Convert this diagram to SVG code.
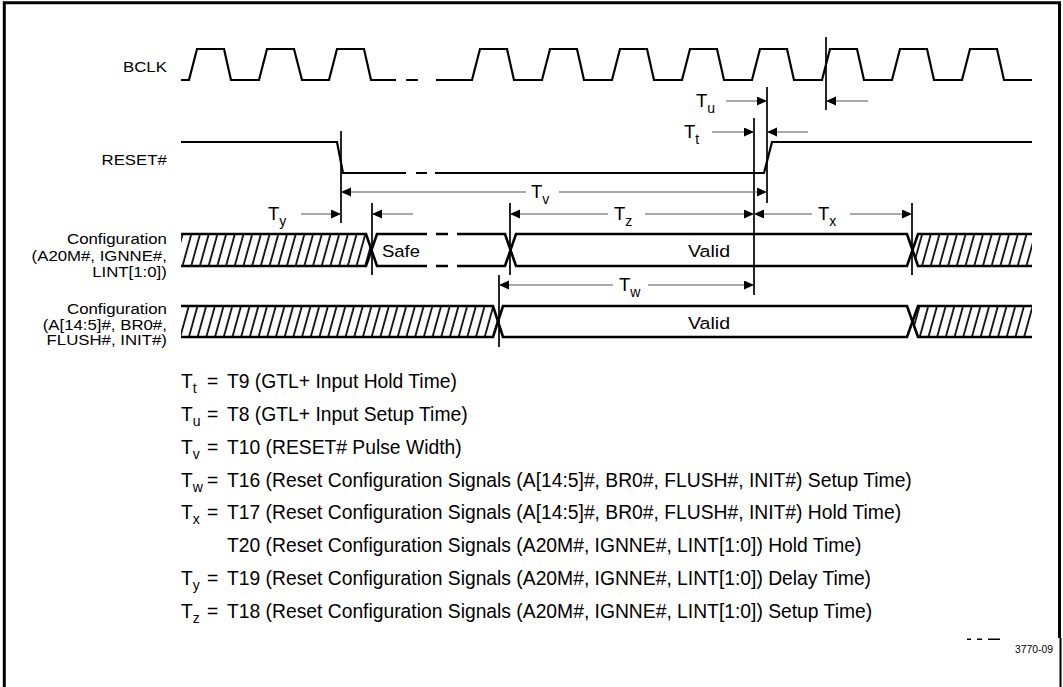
<svg xmlns="http://www.w3.org/2000/svg" width="1063" height="687" viewBox="0 0 1063 687">
<style>
text{font-family:"Liberation Sans",Arial,Helvetica,sans-serif;fill:#000}
.lbl{font-size:15px;text-anchor:end}
.sig{fill:none;stroke:#000;stroke-width:2.2;stroke-linejoin:miter}
.row{fill:none;stroke:#000;stroke-width:2.6}
.vl{fill:none;stroke:#000;stroke-width:1.7}
.dim{fill:none;stroke:#555;stroke-width:1.2;marker-end:url(#ah)}
.tl{font-size:18.5px}
.sub{font-size:14px}
.leg{font-size:19.3px}
.legsub{font-size:14px}
.val{font-size:16.3px}
.frame{fill:none;stroke:#000;stroke-width:3}
</style>
<defs>
<marker id="ah" markerUnits="userSpaceOnUse" markerWidth="11" markerHeight="10" viewBox="0 0 11 10" refX="10" refY="4.5" orient="auto"><path d="M0,0 L10,4.5 L0,9 z" fill="#000"/></marker>
<pattern id="hatch" patternUnits="userSpaceOnUse" width="8.7" height="40" patternTransform="skewX(-15.5)"><line x1="4" y1="0" x2="4" y2="40" stroke="#000" stroke-width="1.8"/></pattern>
</defs>

<g id="frame">
<path class="frame" d="M4.3 687 V2.8 H1059.5 V638"/>
<path fill="none" stroke="#000" stroke-width="2" d="M1060.5 638 V687"/>
<rect x="967" y="638.5" width="4" height="1.5" fill="#000"/>
<rect x="977" y="638.5" width="5" height="1.5" fill="#000"/>
<rect x="988" y="638.5" width="12" height="1.5" fill="#000"/>
</g>

<g id="signal-labels" transform="matrix(1.12 0 0 1 -20.2 0)">
<text class="lbl" x="167" y="72">BCLK</text>
<text class="lbl" x="167" y="165.5">RESET#</text>
<text class="lbl" x="167" y="244.3">Configuration</text>
<text class="lbl" x="167" y="261">(A20M#, IGNNE#,</text>
<text class="lbl" x="167" y="277.3">LINT[1:0])</text>
<text class="lbl" x="167" y="314.3">Configuration</text>
<text class="lbl" x="167" y="330.3">(A[14:5]#, BR0#,</text>
<text class="lbl" x="167" y="345.5">FLUSH#, INIT#)</text>
</g>

<g id="bclk">
<path class="sig" d="M181 80 H189 L197 49 H224 L231 80 H259 L267 49 H294 L302 80 H329 L337 49 H364 L371 80 H396 M406 80 H418 M436 80 H472 L480 49 H507 L514 80 H542 L550 49 H577 L584 80 H612 L620 49 H647 L654 80 H682 L690 49 H717 L724 80 H752 L760 49 H787 L794 80 H822 L830 49 H857 L864 80 H892 L900 49 H927 L934 80 H962 L970 49 H997 L1004 80 H1032"/>
</g>

<g id="reset">
<path class="sig" d="M181 142 H337 L343 173 H406 M416 173 H427 M435 173 H764 L772 142 H1032"/>
</g>

<g id="config1">
<polygon fill="url(#hatch)" points="181,234 366,234 371.5,250 366,266 181,266"/>
<polygon fill="url(#hatch)" points="918,234 1032,234 1032,266 918,266 912.5,250"/>
<path class="row" d="M181 234 H366 L377 266 H427 M436 266 H448 M457 266 H505 L516 234 H907 L918 266 H1032"/>
<path class="row" d="M181 266 H366 L377 234 H427 M436 234 H448 M457 234 H505 L516 266 H907 L918 234 H1032"/>
<text class="val" x="382" y="257" textLength="38" lengthAdjust="spacingAndGlyphs">Safe</text>
<text class="val" x="709" y="257" text-anchor="middle" textLength="42" lengthAdjust="spacingAndGlyphs">Valid</text>
</g>

<g id="config2">
<polygon fill="url(#hatch)" points="181,306 493,306 498,321.5 493,337 181,337"/>
<polygon fill="url(#hatch)" points="918,306 1032,306 1032,337 918,337 912.5,321.5"/>
<path class="row" d="M181 306 H493 L503 337 H907 L918 306 H1032"/>
<path class="row" d="M181 337 H493 L503 306 H907 L918 337 H1032"/>
<text class="val" x="709" y="328.5" text-anchor="middle" textLength="42" lengthAdjust="spacingAndGlyphs">Valid</text>
</g>

<g id="connectors">
<path class="vl" d="M341 131 V223 M372 203 V275 M510 203 V275 M499 275 V347 M754 118 V295 M767 87 V203 M826 37 V110 M912 203 V275"/>
<line class="dim" x1="726" y1="101" x2="767" y2="101"/>
<line class="dim" x1="868" y1="101" x2="826" y2="101"/>
<line class="dim" x1="712" y1="132" x2="754" y2="132"/>
<line class="dim" x1="808" y1="132" x2="767" y2="132"/>
<line class="dim" x1="526" y1="192" x2="341" y2="192"/>
<line class="dim" x1="559" y1="192" x2="767" y2="192"/>
<line class="dim" x1="301" y1="214" x2="341" y2="214"/>
<line class="dim" x1="413" y1="214" x2="372" y2="214"/>
<line class="dim" x1="608" y1="214" x2="510" y2="214"/>
<line class="dim" x1="645" y1="214" x2="754" y2="214"/>
<line class="dim" x1="812" y1="214" x2="754" y2="214"/>
<line class="dim" x1="850" y1="214" x2="912" y2="214"/>
<line class="dim" x1="613" y1="285" x2="499" y2="285"/>
<line class="dim" x1="648" y1="285" x2="754" y2="285"/>
</g>

<g id="timing-labels">
<text class="tl" x="696" y="107">T<tspan class="sub" dy="6">u</tspan></text>
<text class="tl" x="684" y="138">T<tspan class="sub" dy="6">t</tspan></text>
<text class="tl" x="531" y="198">T<tspan class="sub" dy="6">v</tspan></text>
<text class="tl" x="268" y="220">T<tspan class="sub" dy="6">y</tspan></text>
<text class="tl" x="614" y="220">T<tspan class="sub" dy="6">z</tspan></text>
<text class="tl" x="818" y="220">T<tspan class="sub" dy="6">x</tspan></text>
<text class="tl" x="619" y="291">T<tspan class="sub" dy="6">w</tspan></text>
</g>

<g id="legend">
<text class="leg" x="181" y="388">T<tspan class="legsub" dy="5">t</tspan></text>
<text class="leg" x="207" y="388">=</text>
<text class="leg" x="227" y="388">T9 (GTL+ Input Hold Time)</text>
<text class="leg" x="181" y="420.9">T<tspan class="legsub" dy="5">u</tspan></text>
<text class="leg" x="207" y="420.9">=</text>
<text class="leg" x="227" y="420.9">T8 (GTL+ Input Setup Time)</text>
<text class="leg" x="181" y="453.7">T<tspan class="legsub" dy="5">v</tspan></text>
<text class="leg" x="207" y="453.7">=</text>
<text class="leg" x="227" y="453.7">T10 (RESET# Pulse Width)</text>
<text class="leg" x="181" y="486.6">T<tspan class="legsub" dy="5">w</tspan></text>
<text class="leg" x="207" y="486.6">=</text>
<text class="leg" x="227" y="486.6">T16 (Reset Configuration Signals (A[14:5]#, BR0#, FLUSH#, INIT#) Setup Time)</text>
<text class="leg" x="181" y="519.4">T<tspan class="legsub" dy="5">x</tspan></text>
<text class="leg" x="207" y="519.4">=</text>
<text class="leg" x="227" y="519.4">T17 (Reset Configuration Signals (A[14:5]#, BR0#, FLUSH#, INIT#) Hold Time)</text>
<text class="leg" x="227" y="552.3">T20 (Reset Configuration Signals (A20M#, IGNNE#, LINT[1:0]) Hold Time)</text>
<text class="leg" x="181" y="585.1">T<tspan class="legsub" dy="5">y</tspan></text>
<text class="leg" x="207" y="585.1">=</text>
<text class="leg" x="227" y="585.1">T19 (Reset Configuration Signals (A20M#, IGNNE#, LINT[1:0]) Delay Time)</text>
<text class="leg" x="181" y="618">T<tspan class="legsub" dy="5">z</tspan></text>
<text class="leg" x="207" y="618">=</text>
<text class="leg" x="227" y="618">T18 (Reset Configuration Signals (A20M#, IGNNE#, LINT[1:0]) Setup Time)</text>
</g>

<text x="1015" y="653" font-size="10.5" textLength="38" lengthAdjust="spacingAndGlyphs">3770-09</text>
</svg>
